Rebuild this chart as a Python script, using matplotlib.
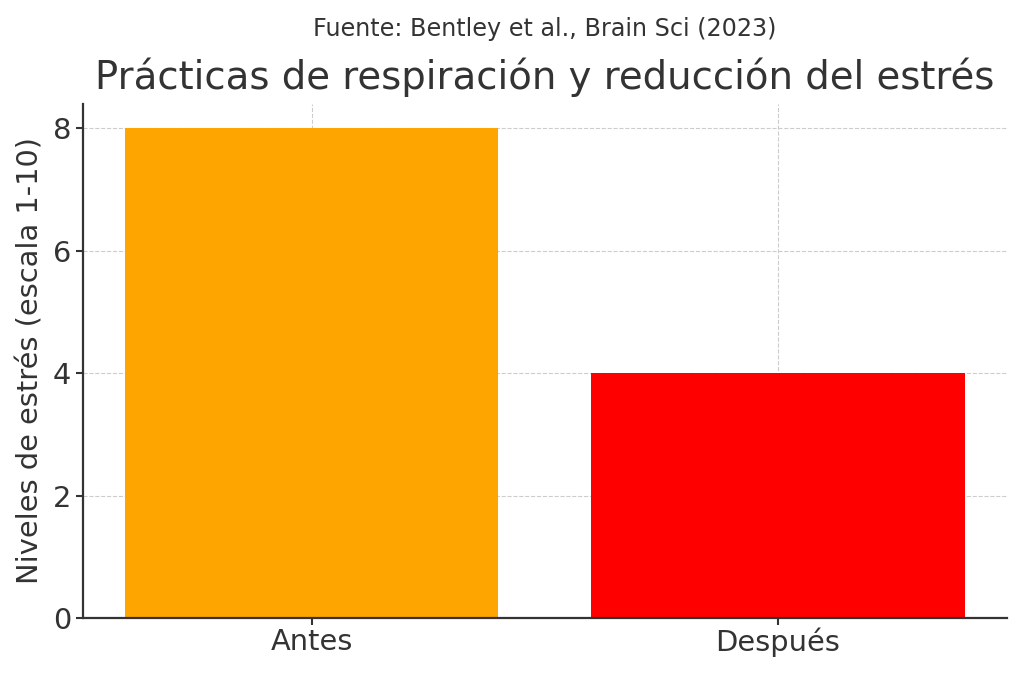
import matplotlib.pyplot as plt

categories = ["Antes", "Después"]
stress_levels = [8, 4]
bar_colors = ["orange", "red"]

plt.rcParams['font.family'] = ['DejaVu Sans']
plt.rcParams['text.color'] = '#333333'
plt.rcParams['axes.labelcolor'] = '#333333'
plt.rcParams['xtick.color'] = '#333333'
plt.rcParams['ytick.color'] = '#333333'

fig = plt.figure(figsize=(10.24, 6.74), dpi=100)
ax = fig.add_axes([0.081, 0.083, 0.902, 0.763])

ax.bar(categories, stress_levels, color=bar_colors, width=0.8, zorder=2)

ax.set_title("Prácticas de respiración y reducción del estrés", fontsize=27.8, pad=11)
fig.text(0.532, 0.957, "Fuente: Bentley et al., Brain Sci (2023)", ha='center', va='center',
         fontsize=17.2)
ax.set_ylabel("Niveles de estrés (escala 1-10)", fontsize=20.8, labelpad=6)
ax.tick_params(axis='both', labelsize=20.8, width=1.5, length=5, color='#333333')
ax.tick_params(axis='x', pad=2)
ax.set_yticks([0, 2, 4, 6, 8])
ax.grid(True, linestyle='--', color='#cccccc', linewidth=0.8, zorder=0)
ax.spines['top'].set_visible(False)
ax.spines['right'].set_visible(False)
for side in ['left', 'bottom']:
    ax.spines[side].set_linewidth(1.6)
    ax.spines[side].set_color('#333333')

fig.savefig("out.png", dpi=100)
